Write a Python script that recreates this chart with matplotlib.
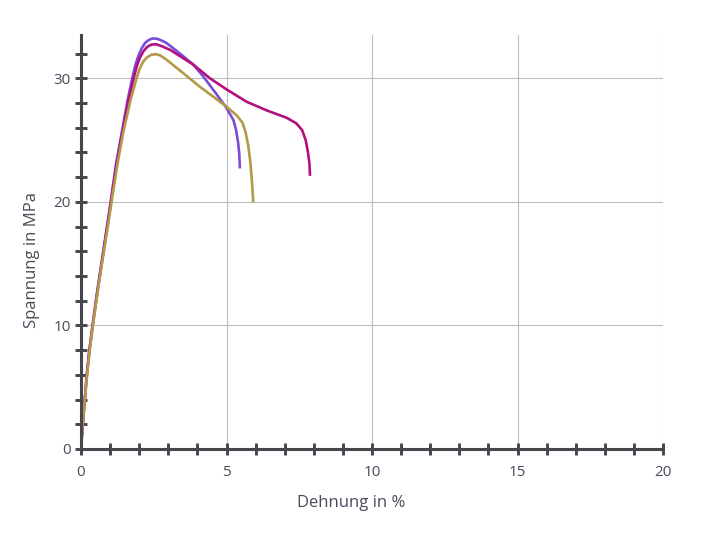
import numpy as np
import matplotlib.pyplot as plt
from matplotlib.ticker import MultipleLocator

plt.rcParams['font.family'] = ['Open Sans', 'DejaVu Sans']

# Dehnung (%) / Spannung (MPa) readings for the three specimens
purple_x = [0, 0.06, 0.13, 0.2, 0.29, 0.40, 0.54, 0.70, 0.86, 1.02, 1.2, 1.40, 1.6, 1.76, 1.86, 1.97,
            2.08, 2.2, 2.33, 2.46, 2.6, 2.75, 2.94, 3.40, 3.86, 4.2, 4.66, 5.0, 5.24, 5.33, 5.4, 5.44, 5.46]
purple_y = [0, 2, 4, 6, 8, 10, 12.5, 15, 17.5, 20, 23, 25.6, 28.2, 30, 31.0, 31.8,
            32.4, 32.85, 33.1, 33.22, 33.2, 33.08, 32.85, 32.0, 31.1, 30.15, 28.7, 27.6, 26.6, 25.8, 24.8, 23.8, 22.7]

magenta_x = [0, 0.06, 0.13, 0.2, 0.29, 0.40, 0.55, 0.71, 0.87, 1.03, 1.22, 1.42, 1.63, 1.81, 1.92, 2.03,
             2.15, 2.28, 2.42, 2.58, 2.75, 3.06, 3.86, 4.43, 5.0, 5.69, 6.38, 7.07, 7.4, 7.6, 7.72, 7.8,
             7.85, 7.87]
magenta_y = [0, 2, 4, 6, 8, 10, 12.5, 15, 17.5, 20, 23, 25.6, 28.2, 30, 31.0, 31.7,
             32.2, 32.55, 32.72, 32.75, 32.62, 32.3, 31.1, 30.0, 29.1, 28.1, 27.4, 26.8, 26.35, 25.8, 25.0, 24.0,
             23.1, 22.1]

gold_x = [0, 0.06, 0.13, 0.21, 0.30, 0.41, 0.56, 0.72, 0.89, 1.05, 1.25, 1.45, 1.7, 1.91, 2.02, 2.14,
          2.27, 2.42, 2.58, 2.72, 2.94, 3.52, 4.09, 4.55, 5.0, 5.35, 5.55, 5.66, 5.75, 5.82, 5.87, 5.92]
gold_y = [0, 2, 4, 6, 8, 10, 12.5, 15, 17.5, 20, 23, 25.6, 28.2, 30, 30.8, 31.35,
          31.7, 31.9, 31.95, 31.85, 31.5, 30.4, 29.3, 28.5, 27.7, 27.0, 26.4, 25.6, 24.5, 23.2, 21.8, 19.95]

fig = plt.figure(figsize=(7.17, 5.35), dpi=100)
ax = fig.add_axes([81/717, 1-449/535, (663-81)/717, (449-35)/535])

ax.plot(purple_x, purple_y, color='#7a4cd9', lw=1.9, solid_capstyle='butt')
ax.plot(magenta_x, magenta_y, color='#b3107f', lw=1.9, solid_capstyle='butt')
ax.plot(gold_x, gold_y, color='#b39a48', lw=1.9, solid_capstyle='butt')

ax.set_xlim(0, 20)
ax.set_ylim(0, 33.5)

ax.xaxis.set_major_locator(MultipleLocator(5))
ax.xaxis.set_minor_locator(MultipleLocator(1))
ax.yaxis.set_major_locator(MultipleLocator(10))
ax.yaxis.set_minor_locator(MultipleLocator(2))

ax.grid(True, which='major', color='#bdbdbd', lw=0.8)
ax.set_axisbelow(True)

for s in ['top', 'right']:
    ax.spines[s].set_visible(False)
for s in ['left', 'bottom']:
    ax.spines[s].set_color('#45474c')
    ax.spines[s].set_linewidth(2.2)

ax.tick_params(which='both', direction='inout', length=8.5, width=2.1, color='#45474c',
               labelcolor='#4a4a5a', labelsize=11)
ax.tick_params(axis='x', which='major', pad=7)
ax.tick_params(axis='y', which='major', pad=3)

# axis titles placed in pixel positions like the original
fig.text(351/717, 1-503/535, 'Dehnung in %', color='#4a4a5a', fontsize=12,
         ha='center', va='center')
fig.text(32/717, 1-260/535, 'Spannung in MPa', color='#4a4a5a', fontsize=12,
         ha='center', va='center', rotation=90)

for sp in ax.spines.values():
    sp.set_zorder(3)

fig.savefig('out.png', dpi=100)
